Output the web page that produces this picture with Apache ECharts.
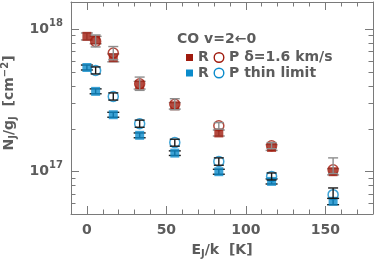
<!DOCTYPE html>
<html><head><meta charset="utf-8">
<script src="https://cdn.jsdelivr.net/npm/echarts@6/dist/echarts.min.js"></script>
<style>html,body{margin:0;padding:0;background:#fff}#c{width:374px;height:263px}</style>
</head><body><div id="c"></div>
<script>
// Upper-level energies E_J/k [K] for J = 0..7
const energyR = [0, 5.5, 16.6, 33.2, 55.3, 83.0, 116.2, 154.9];
const energyP = [5.5, 16.6, 33.2, 55.3, 83.0, 116.2, 154.9];

// delta = 1.6 km/s
const rOpt   = [8.9e17, 8.4e17, 6.3e17, 4.07e17, 2.9e17, 1.87e17, 1.48e17, 1.0e17];
const rOptLo = [8.4e17, 7.9e17, 5.9e17, 3.8e17, 2.75e17, 1.78e17, 1.41e17, 0.95e17];
const rOptHi = [9.4e17, 8.9e17, 6.7e17, 4.3e17, 3.05e17, 1.96e17, 1.55e17, 1.05e17];
const pOpt   = [8.2e17, 6.8e17, 4.14e17, 2.97e17, 2.1e17, 1.52e17, 1.03e17];
const pOptLo = [7.5e17, 6.1e17, 3.72e17, 2.72e17, 1.99e17, 1.45e17, 0.97e17];
const pOptHi = [9.1e17, 7.55e17, 4.61e17, 3.25e17, 2.21e17, 1.6e17, 1.25e17];

// thin limit
const rThin   = [5.38e17, 3.66e17, 2.51e17, 1.8e17, 1.35e17, 1.0e17, 8.55e16, 6.2e16];
const rThinLo = [5.17e17, 3.52e17, 2.41e17, 1.73e17, 1.3e17, 0.96e17, 8.2e16, 5.87e16];
const rThinHi = [5.6e17, 3.81e17, 2.61e17, 1.87e17, 1.4e17, 1.04e17, 8.9e16, 6.5e16];
const pThin   = [5.13e17, 3.37e17, 2.17e17, 1.6e17, 1.18e17, 9.27e16, 6.9e16];
const pThinLo = [4.85e17, 3.18e17, 2.05e17, 1.51e17, 1.11e17, 8.75e16, 6.5e16];
const pThinHi = [5.43e17, 3.57e17, 2.3e17, 1.69e17, 1.25e17, 9.8e16, 7.69e16];

const xMajorTicks = [0, 50, 100, 150];
const yMajorTicks = [1e17, 1e18];
const yMinorTicks = [6e16, 7e16, 8e16, 9e16, 2e17, 3e17, 4e17, 5e17, 6e17, 7e17, 8e17, 9e17];

const RED = '#a01b0e', BLUE = '#0b8bcb', TXT = '#5c5c5c', AX = '#7a7a7a';
const FONT = 'DejaVu Sans';

function zip(xs, ys) { return xs.map((x, i) => [x, ys[i]]); }
function zip3(xs, lo, hi) { return xs.map((x, i) => [x, lo[i], hi[i]]); }

function errSeries(data, color, capW, z) {
  return {
    type: 'custom', xAxisIndex: 0, yAxisIndex: 0, z: z, silent: true,
    encode: { x: 0, y: [1, 2] },
    data: data,
    renderItem: function (params, api) {
      const x = api.value(0);
      const top = api.coord([x, api.value(2)]);
      const bot = api.coord([x, api.value(1)]);
      const st = { stroke: color, lineWidth: 1.4 };
      return { type: 'group', children: [
        { type: 'line', shape: { x1: top[0], y1: top[1], x2: bot[0], y2: bot[1] }, style: st },
        { type: 'line', shape: { x1: top[0] - capW, y1: top[1], x2: top[0] + capW, y2: top[1] }, style: st },
        { type: 'line', shape: { x1: bot[0] - capW, y1: bot[1], x2: bot[0] + capW, y2: bot[1] }, style: st }
      ]};
    }
  };
}

const labelRich = {
  b: { fontFamily: FONT, fontWeight: 'bold', fontSize: 14, color: TXT, lineHeight: 22 },
  s: { fontFamily: FONT, fontWeight: 'bold', fontSize: 10, color: TXT, lineHeight: 10, verticalAlign: 'top' }
};
const nameRich = {
  a: { fontFamily: FONT, fontWeight: 'bold', fontSize: 14, color: TXT, lineHeight: 18 },
  s: { fontFamily: FONT, fontWeight: 'bold', fontSize: 10, color: TXT, lineHeight: 10, verticalAlign: 'bottom' },
  p: { fontFamily: FONT, fontWeight: 'bold', fontSize: 10, color: TXT, lineHeight: 10, verticalAlign: 'top' }
};

const XMIN = -10, XMAX = 180, YMIN = 5.05e16, YMAX = 1.55e18;

function xAx(pos, major, withLabels) {
  const a = {
    type: 'value', min: XMIN, max: XMAX, position: pos,
    splitLine: { show: false },
    axisLine: { show: major, onZero: false, lineStyle: { color: AX, width: 1 } },
    axisTick: { show: true, inside: true, length: major ? 8 : 4.5, lineStyle: { color: AX, width: 1 } },
    axisLabel: { show: false }
  };
  if (major) a.axisTick.customValues = xMajorTicks; else a.interval = 10;
  if (withLabels) {
    a.axisLabel = { show: true, customValues: xMajorTicks, margin: 9,
      fontFamily: FONT, fontWeight: 'bold', fontSize: 14, color: TXT };
    a.name = '{a|E}{s|J}{a|/k  [K]}';
    a.nameLocation = 'middle';
    a.nameGap = 27;
    a.nameTextStyle = { rich: nameRich };
  }
  return a;
}
function yAx(pos, major, withLabels) {
  const a = {
    type: 'log', logBase: 10, min: YMIN, max: YMAX, position: pos,
    splitLine: { show: false },
    axisLine: { show: major, onZero: false, lineStyle: { color: AX, width: 1 } },
    axisTick: { show: true, inside: true, length: major ? 8 : 4.5, lineStyle: { color: AX, width: 1 },
      customValues: major ? yMajorTicks : yMinorTicks },
    axisLabel: { show: false }
  };
  if (withLabels) {
    a.axisLabel = { show: true, customValues: yMajorTicks, margin: 8,
      formatter: v => '{b|10}{s|' + Math.round(Math.log10(v)) + '}', rich: labelRich };
    a.name = '{a|N}{s|J}{a|/g}{s|J}{a|  [cm}{p|−2}{a|]}';
    a.nameLocation = 'middle';
    a.nameGap = 41;
    a.nameRotate = 90;
    a.nameTextStyle = { rich: nameRich, padding: [0, 0, 0, 10] };
  }
  return a;
}

const LF = 'bold 14px "DejaVu Sans"';
const chart = echarts.init(document.getElementById('c'), null, { renderer: 'canvas' });
chart.setOption({
  animation: false,
  backgroundColor: '#fff',
  grid: { left: 71, right: 1, top: 2, bottom: 49, containLabel: false, outerBoundsMode: 'none' },
  xAxis: [xAx('bottom', true, true), xAx('bottom', false, false), xAx('top', true, false), xAx('top', false, false)],
  yAxis: [yAx('left', true, true), yAx('left', false, false), yAx('right', true, false), yAx('right', false, false)],
  series: [
    errSeries(zip3(energyR, rOptLo, rOptHi), '#8e8e8e', 6, 1),
    { type: 'scatter', name: 'R δ=1.6', data: zip(energyR, rOpt), symbol: 'rect', symbolSize: 9, z: 2,
      itemStyle: { color: RED } },
    { type: 'scatter', name: 'P δ=1.6', data: zip(energyP, pOpt), symbol: 'circle', symbolSize: 10, z: 3,
      itemStyle: { color: 'rgba(0,0,0,0)', borderColor: RED, borderWidth: 1.5 } },
    errSeries(zip3(energyP, pOptLo, pOptHi), '#8e8e8e', 5, 4),
    errSeries(zip3(energyR, rThinLo, rThinHi), '#1a1a1a', 6, 1),
    { type: 'scatter', name: 'R thin', data: zip(energyR, rThin), symbol: 'rect', symbolSize: 9, z: 2,
      itemStyle: { color: BLUE } },
    { type: 'scatter', name: 'P thin', data: zip(energyP, pThin), symbol: 'circle', symbolSize: 10, z: 3,
      itemStyle: { color: 'rgba(0,0,0,0)', borderColor: BLUE, borderWidth: 1.5 } },
    errSeries(zip3(energyP, pThinLo, pThinHi), '#1a1a1a', 5, 4)
  ],
  graphic: [
    { type: 'text', x: 177, y: 39, style: { text: 'CO v=2←0', font: LF, fill: TXT, verticalAlign: 'middle' } },
    { type: 'rect', shape: { x: 186, y: 54, width: 7, height: 7 }, style: { fill: RED } },
    { type: 'text', x: 198, y: 57.5, style: { text: 'R', font: LF, fill: TXT, verticalAlign: 'middle' } },
    { type: 'circle', shape: { cx: 219, cy: 57.5, r: 4.8 }, style: { fill: 'none', stroke: RED, lineWidth: 1.4 } },
    { type: 'text', x: 229, y: 57.5, style: { text: 'P δ=1.6 km/s', font: LF, fill: TXT, verticalAlign: 'middle' } },
    { type: 'rect', shape: { x: 186, y: 69.5, width: 7, height: 7 }, style: { fill: BLUE } },
    { type: 'text', x: 198, y: 73, style: { text: 'R', font: LF, fill: TXT, verticalAlign: 'middle' } },
    { type: 'circle', shape: { cx: 219, cy: 73, r: 4.8 }, style: { fill: 'none', stroke: BLUE, lineWidth: 1.4 } },
    { type: 'text', x: 229, y: 73, style: { text: 'P thin limit', font: LF, fill: TXT, verticalAlign: 'middle' } }
  ]
});
</script>
</body></html>
